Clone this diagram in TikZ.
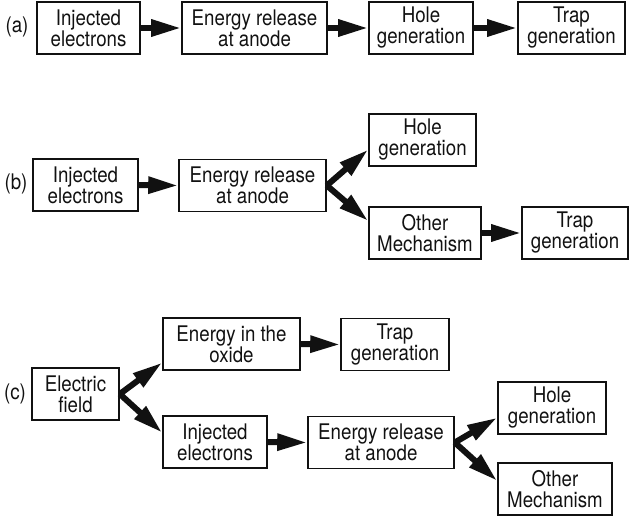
\documentclass[tikz,border=0pt]{standalone}
\usepackage{fontspec}
\setsansfont{TeX Gyre Heros}[FakeStretch=0.87]
\usetikzlibrary{arrows.meta, positioning}
\definecolor{cink}{HTML}{111111}
\tikzset{
  every picture/.style={font=\sffamily\fontsize{21.5}{21}\selectfont, line width=1.6pt},
  box/.style={draw=cink, text=cink, align=center, inner sep=0pt, minimum height=52pt},
  arrow/.style={-{Triangle[length=30pt, width=16pt]}, draw=cink, line width=6pt},
  tag/.style={text=cink, inner sep=0pt},
}

\begin{document}
\begin{tikzpicture}[x=1pt, y=-1pt]
  \useasboundingbox (0,0) rectangle (630,516);
  % row (a)
  \node[tag] (ta) at (17,27) {(a)};
  \node[box, minimum width=103pt] (a1) at (88.5,28) {Injected\\electrons};
  \node[box, minimum width=145pt] (a2) at (254.5,28) {Energy release\\at anode};
  \node[box, minimum width=104pt] (a3) at (421,28) {Hole\\generation};
  \node[box, minimum width=107pt] (a4) at (571.5,28) {Trap\\generation};
  \foreach \s/\t in {a1/a2, a2/a3, a3/a4} \draw[arrow] (\s.east) -- (\t.west);
  % row (b)
  \node[tag] (tb) at (16,184) {(b)};
  \node[box, minimum width=105pt] (b1) at (85.5,185) {Injected\\electrons};
  \node[box, minimum width=147pt] (b2) at (252.5,185.5) {Energy release\\at anode};
  \node[box, minimum width=107pt] (b3) at (422.5,140) {Hole\\generation};
  \node[box, minimum width=112pt] (b4) at (425,233) {Other\\Mechanism};
  \node[box, minimum width=106pt] (b5) at (575,233) {Trap\\generation};
  \draw[arrow] (b1.east) -- (b2.west);
  \draw[arrow] (b2.east) -- (b3.190);
  \draw[arrow] (b2.east) -- (b4.168);
  \draw[arrow] (b4.east) -- (b5.west);
  % row (c)
  \node[tag] (tc) at (15,394) {(c)};
  \node[box, minimum width=87pt] (c1) at (75.5,394) {Electric\\field};
  \node[box, minimum width=137pt] (c2) at (231.5,344) {Energy in the\\oxide};
  \node[box, minimum width=108pt] (c3) at (395,344.5) {Trap\\generation};
  \node[box, minimum width=104pt] (c4) at (215,442) {Injected\\electrons};
  \node[box, minimum width=146pt] (c5) at (381,442.5) {Energy release\\at anode};
  \node[box, minimum width=108pt] (c6) at (552,408) {Hole\\generation};
  \node[box, minimum width=114pt] (c7) at (555,489) {Other\\Mechanism};
  \draw[arrow] (c1.east) -- (c2.195);
  \draw[arrow] (c1.east) -- (c4.170);
  \draw[arrow] (c2.east) -- (c3.west);
  \draw[arrow] (c4.east) -- (c5.west);
  \draw[arrow] (c5.east) -- (c6.190);
  \draw[arrow] (c5.east) -- (c7.172);
\end{tikzpicture}
\end{document}
